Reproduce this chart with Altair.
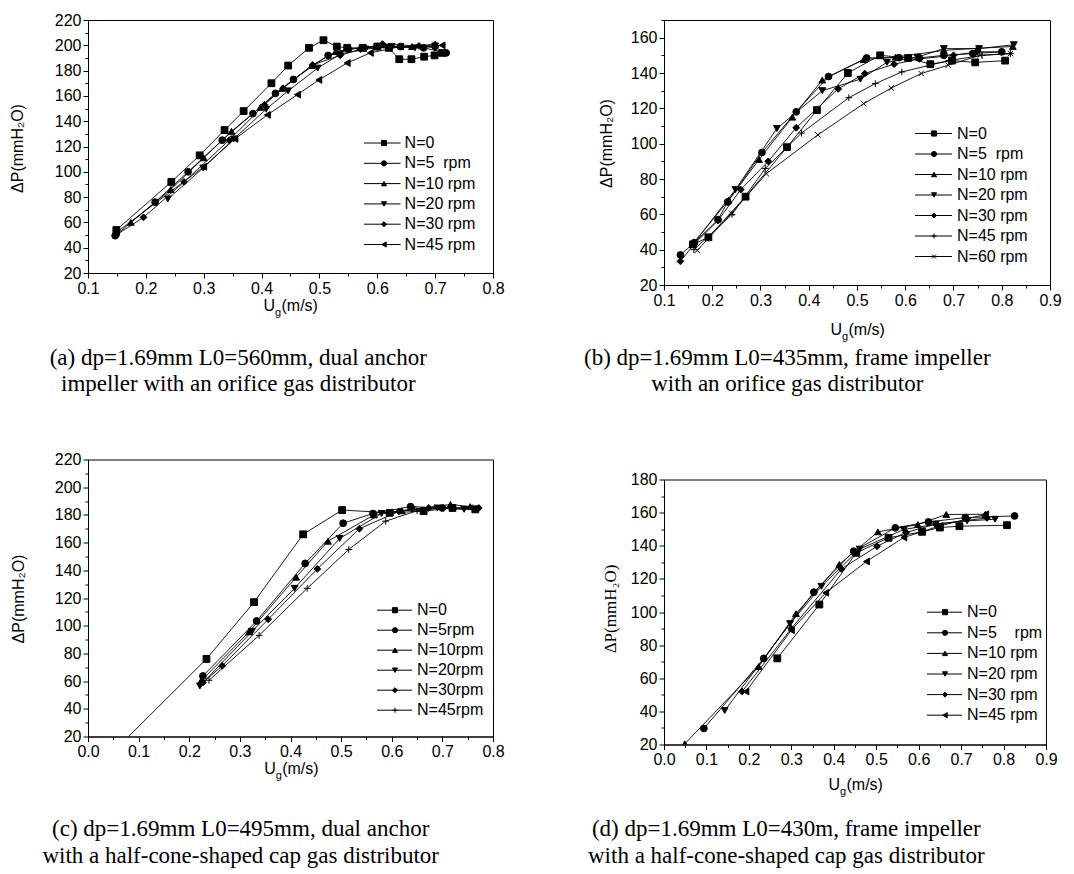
import altair as alt
import pandas as pd

SANS = "Liberation Sans"
SERIF = "Liberation Serif"
NB = "\u00a0"

# ---------------- data ----------------
SQ, CI, TU, TD, DI, TL = "square", "circle", "triangle-up", "triangle-down", "diamond", "triangle-left"
PLUS = "M-1,0H1M0,-1V1"
XMARK = "M-0.8,-0.8L0.8,0.8M-0.8,0.8L0.8,-0.8"

# (a)
A_LABELS = ["N=0", "N=5" + NB + NB + "rpm", "N=10 rpm", "N=20 rpm", "N=30 rpm", "N=45 rpm"]
A_SHAPES = [SQ, CI, TU, TD, DI, TL]
A_X = [
    [0.149, 0.244, 0.293, 0.336, 0.369, 0.417, 0.446, 0.482, 0.507, 0.530, 0.548, 0.575, 0.600, 0.620, 0.638, 0.659, 0.681, 0.699, 0.712],
    [0.147, 0.216, 0.273, 0.332, 0.385, 0.424, 0.455, 0.515, 0.550, 0.600, 0.640, 0.680, 0.719],
    [0.174, 0.243, 0.300, 0.348, 0.398, 0.436, 0.487, 0.528, 0.570, 0.620, 0.660, 0.700],
    [0.238, 0.299, 0.352, 0.408, 0.446, 0.497, 0.536, 0.580, 0.625, 0.665, 0.700],
    [0.147, 0.196, 0.266, 0.344, 0.405, 0.437, 0.488, 0.536, 0.571, 0.609, 0.672, 0.700],
    [0.149, 0.300, 0.354, 0.410, 0.462, 0.499, 0.548, 0.588, 0.640, 0.712],
]
A_Y = [
    [54, 92, 113, 133, 148, 170, 184, 198, 204, 199, 198, 198, 199, 198, 189, 189, 191, 192, 194],
    [49.5, 76, 100, 125, 146, 162, 173, 192, 197, 199, 199, 198, 194],
    [60, 86, 111, 132, 151, 166, 184, 195, 198, 198, 199, 201],
    [78.5, 103, 126, 149.5, 164, 182, 193, 197, 199, 198, 199.5],
    [49.5, 64, 92, 125, 153, 166, 184.5, 192, 197, 201, 199.5, 198],
    [52, 104, 126, 145, 161, 172.6, 186, 194, 199, 200],
]

# (b)
B_LABELS = ["N=0", "N=5" + NB + NB + "rpm", "N=10 rpm", "N=20 rpm", "N=30 rpm", "N=45 rpm", "N=60 rpm"]
B_SHAPES = [SQ, CI, TU, TD, DI, PLUS, XMARK]
B_X = [
    [0.160, 0.192, 0.269, 0.355, 0.417, 0.481, 0.548, 0.606, 0.652, 0.697, 0.745, 0.807],
    [0.134, 0.163, 0.212, 0.232, 0.303, 0.374, 0.441, 0.520, 0.587, 0.629, 0.680, 0.740, 0.800],
    [0.159, 0.234, 0.297, 0.366, 0.428, 0.514, 0.580, 0.680, 0.750, 0.823],
    [0.160, 0.248, 0.334, 0.428, 0.507, 0.562, 0.625, 0.680, 0.753, 0.825],
    [0.134, 0.162, 0.212, 0.259, 0.316, 0.374, 0.461, 0.516, 0.577, 0.629, 0.700, 0.749, 0.800],
    [0.162, 0.241, 0.310, 0.385, 0.483, 0.538, 0.593, 0.690, 0.759, 0.818],
    [0.169, 0.240, 0.312, 0.419, 0.514, 0.571, 0.633, 0.689, 0.755, 0.818],
]
B_Y = [
    [43, 47, 70, 98, 119, 140, 150, 148.5, 145, 147, 146, 147],
    [37, 44, 57, 67, 95, 118, 138, 148.5, 148.7, 148.5, 150, 151, 152],
    [43, 68, 91, 115, 136, 147.6, 149, 152.8, 154, 155],
    [43, 74, 108.6, 130, 136.5, 146, 149, 153.8, 153.8, 156],
    [33.4, 43, 56.5, 74, 90, 109, 131, 139.7, 145, 148, 150, 152, 152],
    [40, 60, 86, 106, 126, 134, 140.6, 147, 150, 151],
    [39.6, 60.6, 83, 105, 122.7, 131.5, 139.7, 144.4, 150, 151],
]

# (c)
C_LABELS = ["N=0", "N=5rpm", "N=10rpm", "N=20rpm", "N=30rpm", "N=45rpm"]
C_SHAPES = [SQ, CI, TU, TD, DI, PLUS]
C_X = [
    [0.025, 0.234, 0.328, 0.425, 0.502, 0.596, 0.663, 0.720, 0.765],
    [0.227, 0.333, 0.429, 0.504, 0.563, 0.637, 0.700, 0.766],
    [0.223, 0.318, 0.411, 0.474, 0.565, 0.620, 0.716, 0.755],
    [0.221, 0.324, 0.408, 0.497, 0.580, 0.640, 0.690, 0.743],
    [0.227, 0.265, 0.356, 0.453, 0.536, 0.614, 0.673, 0.772],
    [0.239, 0.338, 0.433, 0.515, 0.588, 0.650, 0.700, 0.760],
]
C_Y = [
    [0, 76, 117, 166, 183.5, 181.5, 182.7, 185, 184],
    [63.7, 103.4, 145, 174, 181, 186, 185, 184],
    [60, 95.5, 135, 161, 180, 183, 187.5, 186],
    [56.5, 96, 127, 163, 181, 184, 185, 184],
    [59, 71, 104.6, 141, 170, 182.5, 185, 185],
    [60.6, 93, 127, 155, 175.5, 183, 185, 185],
]

# (d)
D_LABELS = ["N=0", "N=5" + NB * 4 + "rpm", "N=10 rpm", "N=20 rpm", "N=30 rpm", "N=45 rpm"]
D_SHAPES = [SQ, CI, TU, TD, DI, TL]
D_X = [
    [0.267, 0.366, 0.453, 0.529, 0.608, 0.650, 0.696, 0.808],
    [0.094, 0.235, 0.353, 0.447, 0.545, 0.623, 0.710, 0.826],
    [0.049, 0.223, 0.311, 0.413, 0.504, 0.598, 0.665, 0.757],
    [0.143, 0.297, 0.371, 0.461, 0.565, 0.640, 0.714, 0.780],
    [0.184, 0.300, 0.418, 0.502, 0.570, 0.640, 0.761],
    [0.193, 0.300, 0.381, 0.477, 0.565, 0.650, 0.758],
]
D_Y = [
    [72, 104.5, 135.7, 144.8, 148.4, 151, 151.8, 152.4],
    [29.7, 72, 112, 136.7, 150.8, 154.4, 157, 158],
    [20.4, 67, 99, 128.7, 148.4, 152.8, 158.9, 159],
    [40.5, 93, 115.5, 138, 149.8, 153, 155, 156],
    [52, 90, 126, 139.7, 148, 153, 156.8],
    [52, 89, 111.6, 130.5, 145, 152, 159],
]

CAPTIONS = {
    "a": ["(a) dp=1.69mm L0=560mm, dual anchor", "impeller with an orifice gas distributor"],
    "b": ["(b) dp=1.69mm L0=435mm, frame impeller", "with an orifice gas distributor"],
    "c": ["(c) dp=1.69mm L0=495mm, dual anchor", "with a half-cone-shaped cap gas distributor"],
    "d": ["(d) dp=1.69mm L0=430m, frame impeller", "with a half-cone-shaped cap gas distributor"],
}
YTITLE = "\u0394P(mmH\u2082O)"

ONE = pd.DataFrame({"k": [0]})


def text_layer(text, x, y, size, font, align="left", baseline="alphabetic"):
    return alt.Chart(ONE).mark_text(
        text=text, font=font, fontSize=size, align=align, baseline=baseline, color="black"
    ).encode(x=alt.value(x), y=alt.value(y))


def panel(xs, ys, labels, shapes, xdom, ydom, W, H, yt, leg, xt, cap_key, cap_pos):
    rows = []
    for s, (xx, yy) in enumerate(zip(xs, ys)):
        for i, (x, y) in enumerate(zip(xx, yy)):
            rows.append({"x": x, "y": y, "s": labels[s], "shp": shapes[s], "i": i})
    df = pd.DataFrame(rows)

    nx = int(round((xdom[1] - xdom[0]) / 0.05))
    xvals = [round(xdom[0] + 0.05 * k, 2) for k in range(nx + 1)]
    yvals = list(range(ydom[0], ydom[1] + 1, 10))
    xmajor = "abs(datum.value*10 - round(datum.value*10)) < 0.001"
    ymajor = "datum.value % 20 == 0"

    x_enc = alt.X(
        "x:Q",
        scale=alt.Scale(domain=xdom, nice=False, zero=False),
        axis=alt.Axis(
            values=xvals, title=None,
            labelExpr=f"{xmajor} ? format(datum.value, '.1f') : ''",
            tickSize={"condition": {"test": xmajor, "value": 5}, "value": 3},
        ),
    )
    ytx, yty, yfont, ysize = yt
    y_enc = alt.Y(
        "y:Q",
        scale=alt.Scale(domain=ydom, nice=False, zero=False),
        axis=alt.Axis(
            values=yvals, title=YTITLE,
            labelExpr=f"{ymajor} ? format(datum.value, 'd') : ''",
            tickSize={"condition": {"test": ymajor, "value": 5}, "value": 3},
            titleX=ytx, titleY=yty, titleAngle=270, titleAlign="center", titleBaseline="middle",
            titleFont=yfont, titleFontSize=ysize, titleFontWeight="normal", titleColor="black",
        ),
    )
    # shape strings are used directly (identity), so panels never share a shape scale
    shape_enc = alt.Shape("shp:N", scale=None, legend=None)

    lines = alt.Chart(df).mark_line(color="black", strokeWidth=0.9, clip=True).encode(
        x=x_enc, y=y_enc, detail="s:N", order="i:Q"
    )
    pts = alt.Chart(df).mark_point(
        filled=True, color="black", stroke="black", strokeWidth=1, size=46, opacity=1, clip=True
    ).encode(x=x_enc, y=y_enc, shape=shape_enc)

    lx0, lmx, lx1, ltx, ly0, lstep = leg
    ly = [ydom[1] - (ly0 + k * lstep) / H * (ydom[1] - ydom[0]) for k in range(len(labels))]
    ldf = pd.DataFrame({"s": labels, "shp": shapes, "y": ly})
    lrule = alt.Chart(ldf).mark_rule(color="black", strokeWidth=1).encode(
        x=alt.value(lx0), x2=alt.value(lx1), y=y_enc
    )
    lpts = alt.Chart(ldf).mark_point(
        filled=True, color="black", stroke="black", strokeWidth=1, size=26, opacity=1
    ).encode(x=alt.value(lmx), y=y_enc, shape=shape_enc)
    ltxt = alt.Chart(ldf).mark_text(
        align="left", baseline="middle", font=SANS, fontSize=16, color="black"
    ).encode(x=alt.value(ltx), y=y_enc, text="s:N")

    cx, by = xt
    t1 = text_layer("U", cx - 15, by, 16, SANS, align="right")
    t2 = text_layer("g", cx - 15, by + 5, 11, SANS)
    t3 = text_layer("(m/s)", cx - 8.5, by, 16, SANS)

    ccx, cb1, cb2 = cap_pos
    c1 = text_layer(CAPTIONS[cap_key][0], ccx, cb1, 23, SERIF, align="center")
    c2 = text_layer(CAPTIONS[cap_key][1], ccx, cb2, 23, SERIF, align="center")

    return alt.layer(lines, pts, lrule, lpts, ltxt, t1, t2, t3, c1, c2).properties(width=W, height=H)


# planned plot tops on the page (used only to place caption text)
TOP_AB = 18.5
TOP_C = 458
TOP_D = 478

pa = panel(A_X, A_Y, A_LABELS, A_SHAPES, [0.1, 0.8], [20, 220], 405, 253,
           (-70.7, 128, SANS, 16), (276, 296, 312.6, 316.6, 123, 20.3), (202, 291),
           "a", (150.3, 363 - TOP_AB, 389 - TOP_AB))
pb = panel(B_X, B_Y, B_LABELS, B_SHAPES, [0.1, 0.9], [20, 170], 386, 265,
           (-57.7, 123, SANS, 16), (251, 270, 288, 293, 113.5, 20.5), (193, 314.5),
           "b", (123.3, 363 - TOP_AB, 389 - TOP_AB))
pc = panel(C_X, C_Y, C_LABELS, C_SHAPES, [0.0, 0.8], [20, 220], 405, 277,
           (-69.3, 139, SANS, 16), (289, 307, 324, 329, 150.7, 20), (202.7, 314),
           "c", (152.7, 834 - TOP_C, 861 - TOP_C))
pd_ = panel(D_X, D_Y, D_LABELS, D_SHAPES, [0.0, 0.9], [20, 180], 382, 265,
            (-54, 129, SERIF, 17), (263, 281, 298, 303, 132.7, 20.6), (191, 310),
            "d", (122.3, 834 - TOP_D, 861 - TOP_D))

colA = alt.vconcat(pa, pc, spacing=TOP_C - TOP_AB - 253, bounds="flush")
colB = alt.vconcat(pb, pd_, spacing=TOP_D - TOP_AB - 265, bounds="flush")

chart = (
    alt.hconcat(colA, colB, spacing=576, bounds="flush")
    .properties(padding={"left": 0, "top": 3, "right": 0, "bottom": 0})
    .configure_view(stroke="black", strokeWidth=1)
    .configure_axis(
        grid=False, domainColor="black", domainWidth=1, tickColor="black", tickWidth=1,
        labelFont=SANS, labelFontSize=16, labelColor="black", labelPadding=2,
        labelFlush=False, labelOverlap=False,
    )
)

chart.save("out.html", embed_options={"renderer": "svg", "actions": False})
